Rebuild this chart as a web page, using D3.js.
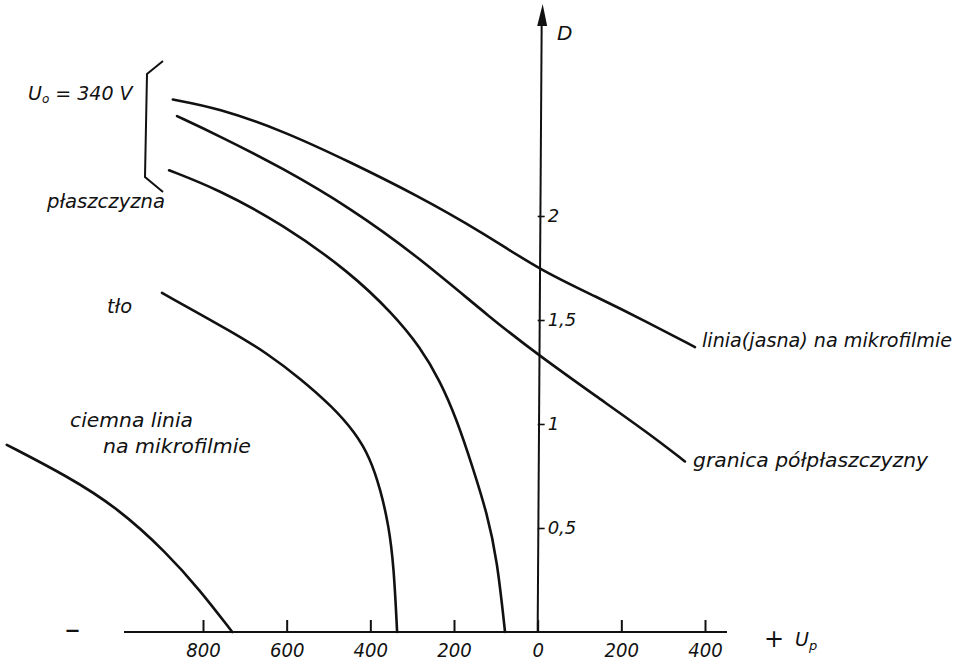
<!DOCTYPE html>
<html>
<head>
<meta charset="utf-8">
<script src="https://cdn.jsdelivr.net/npm/d3@7"></script>
<style>
  html, body { margin: 0; padding: 0; background: #fff; }
  svg text { font-family: "DejaVu Sans", sans-serif; font-style: italic; fill: #111; }
</style>
</head>
<body>
<svg id="chart" width="960" height="665"></svg>
<script>
// U_p (V) and optical density D for each curve
const uJasna = [-872, -766, -609, -449, -289, -131, 5, 142, 262, 376];
const dJasna = [2.56, 2.52, 2.41, 2.26, 2.10, 1.92, 1.74, 1.61, 1.49, 1.37];

const uGranica = [-862, -766, -609, -449, -289, -107, 3, 142, 262, 352];
const dGranica = [2.48, 2.39, 2.23, 2.04, 1.81, 1.50, 1.33, 1.13, 0.96, 0.82];

const uPlaszczyzna = [-881, -766, -609, -449, -346, -281, -234, -193, -155, -121, -97, -78];
const dPlaszczyzna = [2.22, 2.13, 1.96, 1.73, 1.53, 1.37, 1.21, 1.02, 0.79, 0.57, 0.35, 0];

const uTlo = [-898, -728, -647, -568, -489, -437, -401, -375, -356, -344, -336];
const dTlo = [1.63, 1.44, 1.34, 1.22, 1.08, 0.96, 0.84, 0.68, 0.51, 0.32, 0];

const uCiemna = [-1269, -1125, -1006, -886, -807, -730];
const dCiemna = [0.90, 0.75, 0.60, 0.38, 0.20, 0];

const xTicks = [-800, -600, -400, -200, 0, 200, 400];
const yTicks = [0.5, 1, 1.5, 2];

const svg = d3.select("#chart");
const x = d3.scaleLinear().domain([-800, 400]).range([203, 705]);
const y = d3.scaleLinear().domain([0, 2]).range([632, 216]);

const ink = "#111";

// horizontal axis
svg.append("line")
  .attr("x1", 124).attr("x2", 727)
  .attr("y1", y(0)).attr("y2", y(0))
  .attr("stroke", ink).attr("stroke-width", 2);

const xAxis = svg.append("g")
  .attr("transform", `translate(0,${y(0)})`)
  .call(d3.axisBottom(x).tickValues(xTicks).tickSize(-12).tickPadding(11)
    .tickFormat(d => Math.abs(d)));
xAxis.select(".domain").remove();
xAxis.selectAll(".tick line").attr("stroke", ink).attr("stroke-width", 2);
xAxis.selectAll(".tick text")
  .style("font-size", "20px").style("font-family", "DejaVu Sans, sans-serif")
  .style("font-style", "italic").attr("fill", ink)
  .attr("textLength", d => String(Math.abs(d)).length * 11.5)
  .attr("lengthAdjust", "spacingAndGlyphs");

// vertical axis with arrow
const x0 = x(0);
svg.append("line")
  .attr("x1", x0).attr("x2", x0 + 4)
  .attr("y1", y(0)).attr("y2", 24)
  .attr("stroke", ink).attr("stroke-width", 2);
svg.append("path")
  .attr("d", `M${x0 + 5},4 L${x0 + 9.5},26 L${x0 - 0.5},26 Z`)
  .attr("fill", ink);

const yAxis = svg.append("g")
  .attr("transform", `translate(${x0},0)`)
  .call(d3.axisRight(y).tickValues(yTicks).tickSize(7).tickPadding(3)
    .tickFormat(d => String(d).replace(".", ",")));
yAxis.select(".domain").remove();
yAxis.selectAll(".tick line").attr("stroke", ink).attr("stroke-width", 1.6);
yAxis.selectAll(".tick text")
  .style("font-size", "18px").style("font-family", "DejaVu Sans, sans-serif")
  .style("font-style", "italic").attr("fill", ink);

svg.append("text").attr("x", 557).attr("y", 40)
  .style("font-size", "20px").text("D");

// axis end labels
svg.append("text").attr("x", 65).attr("y", 639)
  .style("font-size", "30px").style("font-style", "normal").text("–");
svg.append("text").attr("x", 764).attr("y", 647)
  .style("font-size", "24px").style("font-style", "normal").text("+");
const up = svg.append("text").attr("x", 795).attr("y", 646).style("font-size", "19px");
up.append("tspan").text("U");
up.append("tspan").attr("dy", 4).style("font-size", "13px").text("p");

// curves
const line = d3.line()
  .x(d => x(d[0]))
  .y(d => y(d[1]))
  .curve(d3.curveBasis);

const curves = [
  [uJasna, dJasna],
  [uGranica, dGranica],
  [uPlaszczyzna, dPlaszczyzna],
  [uTlo, dTlo],
  [uCiemna, dCiemna]
];
curves.forEach(([us, ds]) => {
  svg.append("path")
    .datum(us.map((u, i) => [u, ds[i]]))
    .attr("d", line)
    .attr("fill", "none")
    .attr("stroke", ink)
    .attr("stroke-width", 2.6)
    .attr("stroke-linecap", "round");
});

// bracket grouping the three U0 = 340 V curves
svg.append("path")
  .attr("d", "M163,61 L147,74 L145,177 L163,192")
  .attr("fill", "none").attr("stroke", ink).attr("stroke-width", 2);

const u0 = svg.append("text").attr("x", 28).attr("y", 100).style("font-size", "19px");
u0.append("tspan").text("U");
u0.append("tspan").attr("dy", 3).style("font-size", "12px").text("o");
u0.append("tspan").attr("dy", -3).text(" = 340 V");

function label(txt, x1, yb, w) {
  svg.append("text").attr("x", x1).attr("y", yb)
    .style("font-size", "19px")
    .attr("textLength", w).attr("lengthAdjust", "spacingAndGlyphs")
    .text(txt);
}
label("płaszczyzna", 47, 208, 118);
label("tło", 107, 313, 25);
label("ciemna linia", 70, 427, 123);
label("na mikrofilmie", 103, 453, 148);
label("linia(jasna) na mikrofilmie", 702, 347, 250);
label("granica półpłaszczyzny", 693, 467, 235);
</script>
</body>
</html>
